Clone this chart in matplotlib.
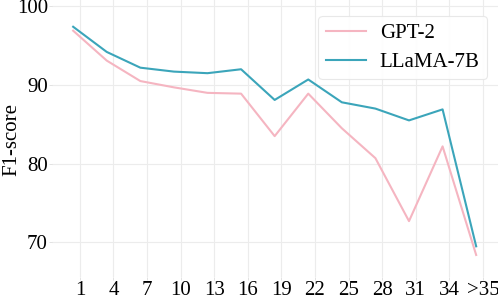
import matplotlib.pyplot as plt
import numpy as np

plt.rcParams['font.family'] = ['Liberation Serif', 'DejaVu Serif']

# length bins and F1 scores
labels = ['1', '4', '7', '10', '13', '16', '19', '22', '25', '28', '31', '34', '>35']
gpt2 = [96.9, 93.1, 90.5, 89.7, 89.0, 88.9, 83.5, 88.9, 84.5, 80.7, 72.7, 82.2, 68.4]
llama = [97.4, 94.2, 92.2, 91.7, 91.5, 92.0, 88.1, 90.7, 87.8, 87.0, 85.5, 86.9, 69.5]

pink = '#F5B5C1'
teal = '#3BA5BA'

fig = plt.figure(figsize=(4.98, 3.01), dpi=100)
ax = fig.add_axes([52 / 498, 24 / 301, 446 / 498, 277 / 301])

x = np.arange(len(labels))
# points sit a little left of the tick marks in the original
ax.plot(x - 0.2, gpt2, color=pink, lw=1.5, label='GPT-2')
ax.plot(x - 0.2, llama, color=teal, lw=1.5, label='LLaMA-7B')

ax.set_xticks(x)
ax.set_xticklabels(labels)
ax.set_yticks([70, 80, 90, 100])
ax.set_xlim(-0.83, 12.45)
ax.set_ylim(65.6, 100.8)

ax.grid(True, color='#ECECEC', lw=0.8)
ax.set_axisbelow(True)
for s in ax.spines.values():
    s.set_visible(False)
ax.tick_params(axis='both', length=2, width=0.6, color='#DDDDDD', labelsize=15, pad=1)
ax.set_ylabel('F1-score', fontsize=15)
ax.yaxis.set_label_coords(-31 / 446, 0.495)

leg = ax.legend(loc='upper right', fontsize=15, frameon=True, fancybox=True,
                bbox_to_anchor=(487 / 498, 1 - 16 / 301), bbox_transform=fig.transFigure,
                borderaxespad=0, handlelength=1.95, handletextpad=0.65,
                borderpad=0.35, labelspacing=0.45, framealpha=0.9)
leg.get_frame().set_edgecolor('#E6E6E6')
leg.get_frame().set_linewidth(0.8)

plt.savefig('out.png', dpi=100)
